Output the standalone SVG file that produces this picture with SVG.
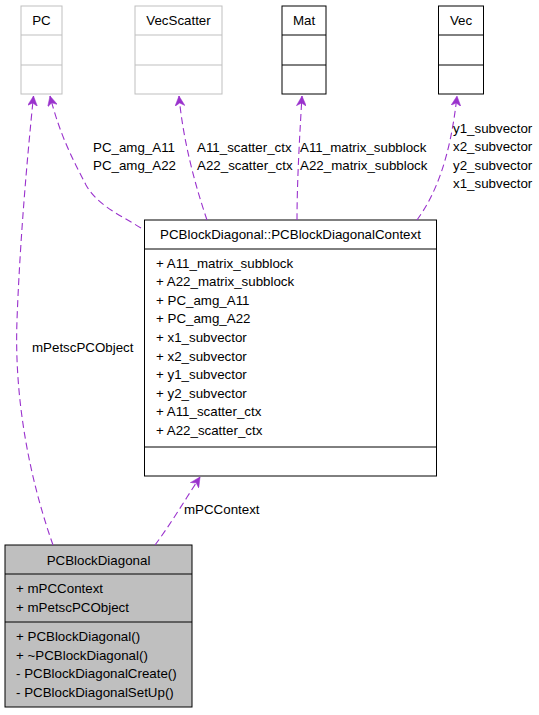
<svg xmlns="http://www.w3.org/2000/svg" width="539" height="715" viewBox="0 0 539 715">
<style>
text{font-family:"Liberation Sans",Arial,Helvetica,sans-serif;font-size:13.33px;fill:#000}
.mid{text-anchor:middle}
.gray{fill:#fff;stroke:#bfbfbf;stroke-width:1}
.black{fill:#fff;stroke:#000;stroke-width:1}
.main{fill:#bfbfbf;stroke:#000;stroke-width:1}
.edge{fill:none;stroke:#9a32cd;stroke-width:1.1;stroke-dasharray:7,4}
</style>
<defs>
<marker id="arr" viewBox="0 0 10 10" refX="10" refY="5" markerWidth="10" markerHeight="10" markerUnits="userSpaceOnUse" orient="auto">
<path d="M0,0 L10,5 L0,10 L3,5 z" fill="#9a32cd" stroke="#9a32cd" stroke-width="0.5"/>
</marker>
</defs>
<rect width="539" height="715" fill="#fff"/>
<g id="PC">
<rect class="gray" x="21" y="6" width="41" height="88"/>
<line class="gray" x1="21" y1="35" x2="62" y2="35"/>
<line class="gray" x1="21" y1="65" x2="62" y2="65"/>
<text class="mid" x="41.5" y="24.5">PC</text>
</g>
<g id="VecScatter">
<rect class="gray" x="135" y="6" width="87" height="88"/>
<line class="gray" x1="135" y1="35" x2="222" y2="35"/>
<line class="gray" x1="135" y1="65" x2="222" y2="65"/>
<text class="mid" x="178.5" y="24.5">VecScatter</text>
</g>
<g id="Mat">
<rect class="black" x="282" y="6" width="44" height="88"/>
<line class="black" x1="282" y1="35" x2="326" y2="35"/>
<line class="black" x1="282" y1="65" x2="326" y2="65"/>
<text class="mid" x="304" y="24.5">Mat</text>
</g>
<g id="Vec">
<rect class="black" x="438.5" y="6" width="45" height="88"/>
<line class="black" x1="438.5" y1="35" x2="483.5" y2="35"/>
<line class="black" x1="438.5" y1="65" x2="483.5" y2="65"/>
<text class="mid" x="461" y="24.5">Vec</text>
</g>
<g id="Context">
<rect class="black" x="144.5" y="220" width="292" height="256"/>
<line class="black" x1="144.5" y1="249" x2="436.5" y2="249"/>
<line class="black" x1="144.5" y1="447" x2="436.5" y2="447"/>
<text class="mid" x="290.5" y="238.5">PCBlockDiagonal::PCBlockDiagonalContext</text>
<text x="156" y="267.5">+ A11_matrix_subblock</text>
<text x="156" y="286">+ A22_matrix_subblock</text>
<text x="156" y="304.7">+ PC_amg_A11</text>
<text x="156" y="323.3">+ PC_amg_A22</text>
<text x="156" y="342">+ x1_subvector</text>
<text x="156" y="360.5">+ x2_subvector</text>
<text x="156" y="379">+ y1_subvector</text>
<text x="156" y="397.7">+ y2_subvector</text>
<text x="156" y="416.3">+ A11_scatter_ctx</text>
<text x="156" y="435">+ A22_scatter_ctx</text>
</g>
<g id="PCBlockDiagonal">
<rect class="main" x="5" y="545" width="187" height="162"/>
<line class="black" x1="5" y1="574" x2="192" y2="574"/>
<line class="black" x1="5" y1="622" x2="192" y2="622"/>
<text class="mid" x="98.5" y="564.5">PCBlockDiagonal</text>
<text x="16" y="593">+ mPCContext</text>
<text x="16" y="611.5">+ mPetscPCObject</text>
<text x="16" y="641">+ PCBlockDiagonal()</text>
<text x="16" y="659.5">+ ~PCBlockDiagonal()</text>
<text x="16" y="678">- PCBlockDiagonalCreate()</text>
<text x="16" y="697">- PCBlockDiagonalSetUp()</text>
</g>
<g id="connectors">
<path class="edge" marker-end="url(#arr)" d="M53,545 C30,480 14,400 17,320 C20,240 27,160 33.5,96"/>
<text x="32" y="352">mPetscPCObject</text>
<path class="edge" marker-end="url(#arr)" d="M141,228 C120,215 97,205 86,185 C72,158 60,135 50,96"/>
<text x="93" y="151.5">PC_amg_A11</text>
<text x="93" y="169.5">PC_amg_A22</text>
<path class="edge" marker-end="url(#arr)" d="M207,220 C195,185 183,140 179,96"/>
<text x="197" y="151.5">A11_scatter_ctx</text>
<text x="197" y="169.5">A22_scatter_ctx</text>
<path class="edge" marker-end="url(#arr)" d="M297,220 C297,180 300,130 302,96"/>
<text x="300" y="151.5">A11_matrix_subblock</text>
<text x="300" y="169.5">A22_matrix_subblock</text>
<path class="edge" marker-end="url(#arr)" d="M417,220 C435,195 450,160 457,96"/>
<text x="453" y="132.5">y1_subvector</text>
<text x="453" y="151">x2_subvector</text>
<text x="453" y="169.5">y2_subvector</text>
<text x="453" y="188">x1_subvector</text>
<path class="edge" marker-end="url(#arr)" d="M155,545 C170,525 185,500 200,477"/>
<text x="184" y="514">mPCContext</text>
</g>
</svg>
